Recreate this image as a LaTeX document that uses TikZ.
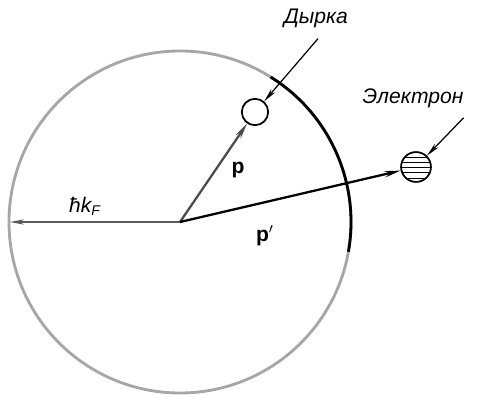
\documentclass[tikz,border=0pt]{standalone}
\usepackage{fontspec}
\setmainfont{Liberation Sans}
\usetikzlibrary{arrows.meta,patterns}
\begin{document}
\begin{tikzpicture}[x=0.02cm,y=-0.02cm,
  vec/.style={line width=1.3pt,-{Stealth[length=9pt,width=3.5pt]}},
  thinvec/.style={line width=0.7pt,-{Stealth[length=8pt,width=3pt]}},
  lbl/.style={font=\itshape\large},
  sym/.style={font=\bfseries\large}]
\useasboundingbox (0,0) rectangle (480,395);
\coordinate (O) at (180,222);
\draw[gray!70,line width=1.6pt] (O) circle[radius=171];
\draw[black,line width=1.6pt] (O) ++(-58:171) arc[start angle=-58,end angle=10,radius=171];
\coordinate (L) at (10,222);
\node[draw,circle,line width=1pt,minimum size=15pt,inner sep=0pt,fill=white] (H) at (255,112) {};
\node[draw,circle,line width=1pt,minimum size=17pt,inner sep=0pt,pattern=horizontal lines] (E) at (416,167) {};
\draw[thinvec,gray!70!black] (O) -- (L);
\draw[vec,gray!60!black] (O) -- (H);
\draw[vec] (O) -- (E);
\node[font=\itshape\large] (kF) at (85,206) {ħk\textsubscript{F}};
\node[sym] (p) at (238,170) {p};
\node[sym] (pp) at (265,236) {p$'$};
\node[lbl] (dl) at (316,18) {Дырка};
\node[lbl] (el) at (413,98) {Электрон};
\draw[thinvec] (dl.south) ++(2,5) -- (H);
\draw[thinvec] (el.south east) ++(-6,4) -- (E);
\end{tikzpicture}
\end{document}
